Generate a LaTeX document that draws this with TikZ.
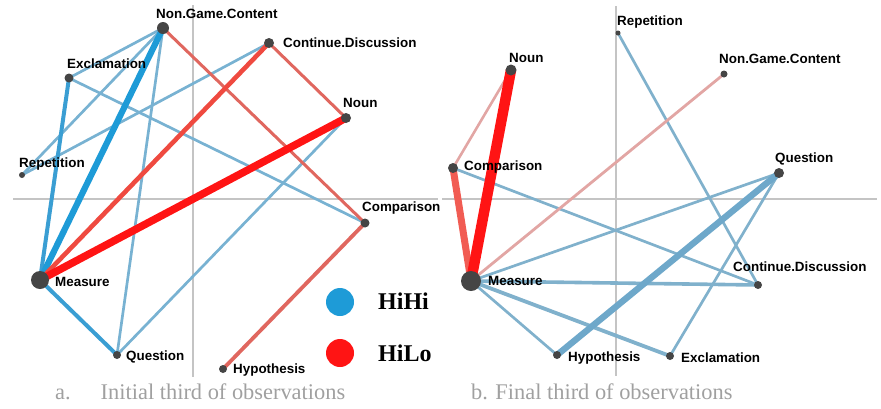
\documentclass[tikz,border=0pt]{standalone}
\usepackage{fontspec}
\setmainfont{Liberation Serif}
\newfontfamily\labfont{Liberation Sans}
\usepackage{xcolor}
\usetikzlibrary{backgrounds}
\definecolor{hihi}{HTML}{1E9BD7}
\definecolor{hilo}{HTML}{FF1414}
\definecolor{bluemid}{HTML}{3A9ED3}
\definecolor{bluethin}{HTML}{78B2D2}
\definecolor{bluesteel}{HTML}{80B1CC}
\definecolor{bluedeep}{HTML}{6EA8CA}
\definecolor{redmid}{HTML}{EF4A40}
\definecolor{redsoft}{HTML}{E0675F}
\definecolor{redpale}{HTML}{E2A6A4}
\definecolor{dotgray}{HTML}{454545}
\definecolor{axisgray}{HTML}{C4C4C4}
\definecolor{capgray}{HTML}{A0A0A0}

\begin{document}
\begin{tikzpicture}[x=1pt, y=-1pt,
    vtx/.style={circle, fill=dotgray, inner sep=0pt, minimum size=#1},
    lab/.style={font=\labfont\bfseries\fontsize{13.4}{14}\selectfont, anchor=base west, inner sep=0pt},
    leg/.style={font=\bfseries\fontsize{24}{26}\selectfont, anchor=base west, inner sep=0pt},
    captext/.style={font=\fontsize{22.4}{24}\selectfont, text=capgray, anchor=base west, inner sep=0pt},
    axisline/.style={axisgray, line width=1.2pt},
    link/.style={line width=#1}]
    \useasboundingbox (0,0) rectangle (881,408);

    % ---- panel a: vertices
    \node[vtx=12pt] (aNGC)  at (163,28)  {};
    \node[vtx=10pt] (aCD)   at (269,43)  {};
    \node[vtx=9pt]  (aExcl) at (69,78)   {};
    \node[vtx=10pt] (aNoun) at (346,118) {};
    \node[vtx=6pt]  (aRep)  at (22,175)  {};
    \node[vtx=9pt]  (aComp) at (365,223) {};
    \node[vtx=18pt] (aMeas) at (40,280)  {};
    \node[vtx=8pt]  (aQues) at (117,355) {};
    \node[vtx=8pt]  (aHyp)  at (223,369) {};
    % labels
    \node[lab] (aNGCt)  at (156,18)  {Non.Game.Content};
    \node[lab] (aCDt)   at (283,47)  {Continue.Discussion};
    \node[lab] (aExclt) at (67,68)   {Exclamation};
    \node[lab] (aNount) at (343,107) {Noun};
    \node[lab] (aRept)  at (19,167)  {Repetition};
    \node[lab] (aCompt) at (362,211) {Comparison};
    \node[lab] (aMeast) at (55,286)  {Measure};
    \node[lab] (aQuest) at (126,360) {Question};
    \node[lab] (aHypt)  at (233,373) {Hypothesis};

    % ---- panel b: vertices
    \node[vtx=5pt]  (bRep)  at (618,33)  {};
    \node[vtx=11pt] (bNoun) at (511,70)  {};
    \node[vtx=7pt]  (bNGC)  at (724,74)  {};
    \node[vtx=10pt] (bComp) at (453,168) {};
    \node[vtx=10pt] (bQues) at (779,173) {};
    \node[vtx=20pt] (bMeas) at (471,281) {};
    \node[vtx=8pt]  (bCD)   at (758,285) {};
    \node[vtx=8pt]  (bHyp)  at (557,355) {};
    \node[vtx=8pt]  (bExcl) at (670,356) {};
    % labels
    \node[lab] (bRept)  at (617,25)  {Repetition};
    \node[lab] (bNount) at (509,62)  {Noun};
    \node[lab] (bNGCt)  at (719,63)  {Non.Game.Content};
    \node[lab] (bCompt) at (464,170) {Comparison};
    \node[lab] (bQuest) at (775,162) {Question};
    \node[lab] (bMeast) at (488,285) {Measure};
    \node[lab] (bCDt)   at (733,271) {Continue.Discussion};
    \node[lab] (bHypt)  at (568,361) {Hypothesis};
    \node[lab] (bExclt) at (681,362) {Exclamation};

    % ---- legend
    \node[circle, fill=hihi, inner sep=0pt, minimum size=28pt] (keyBlue) at (340,302) {};
    \node[circle, fill=hilo, inner sep=0pt, minimum size=28pt] (keyRed)  at (340,353) {};
    \node[leg] (keyBluet) at (378,309) {HiHi};
    \node[leg] (keyRedt)  at (378,361) {HiLo};

    % ---- captions
    \node[captext] (capA) at (55,399)  {a.\hspace{30pt}Initial third of observations};
    \node[captext] (capB) at (471,399) {b. Final third of observations};

    \begin{scope}[on background layer]
        % Axes
        \coordinate (aL) at (13,199);  \coordinate (aR) at (438,199);
        \coordinate (aT) at (193,5);   \coordinate (aB) at (193,377);
        \coordinate (bL) at (442,199); \coordinate (bR) at (877,199);
        \coordinate (bT) at (616,6);   \coordinate (bB) at (616,376);
        \draw[axisline] (aL) -- (aR);
        \draw[axisline] (aT) -- (aB);
        \draw[axisline] (bL) -- (bR);
        \draw[axisline] (bT) -- (bB);

        % Panel a, HiHi links
        \draw[bluethin, link=2.7pt] (aNGC.center) -- (aExcl.center);
        \draw[bluethin, link=2.7pt] (aNGC.center) -- (aRep.center);
        \draw[bluethin, link=2.7pt] (aNGC.center) -- (aQues.center);
        \draw[bluethin, link=2.7pt] (aCD.center) -- (aRep.center);
        \draw[bluethin, link=2.7pt] (aExcl.center) -- (aComp.center);
        \draw[bluethin, link=2.7pt] (aNoun.center) -- (aQues.center);
        \draw[bluemid, link=4pt] (aMeas.center) -- (aExcl.center);
        \draw[bluemid, link=4pt] (aMeas.center) -- (aQues.center);
        \draw[hihi, link=6.2pt] (aMeas.center) -- (aNGC.center);
        % Panel a, HiLo links
        \draw[redsoft, link=3pt] (aNGC.center) -- (aComp.center);
        \draw[redsoft, link=3pt] (aCD.center) -- (aNoun.center);
        \draw[redsoft, link=3.8pt] (aComp.center) -- (aHyp.center);
        \draw[redmid, link=4.6pt] (aMeas.center) -- (aCD.center);
        \draw[hilo, link=7.6pt] (aMeas.center) -- (aNoun.center);

        % Panel b, HiHi links
        \draw[bluesteel, link=2.7pt] (bRep.center) -- (bCD.center);
        \draw[bluesteel, link=2.7pt] (bComp.center) -- (bCD.center);
        \draw[bluesteel, link=2.7pt] (bMeas.center) -- (bQues.center);
        \draw[bluesteel, link=2.7pt] (bMeas.center) -- (bHyp.center);
        \draw[bluesteel, link=2.7pt] (bExcl.center) -- (bQues.center);
        \draw[bluesteel, link=3.6pt] (bMeas.center) -- (bCD.center);
        \draw[bluesteel, link=3.8pt] (bMeas.center) -- (bExcl.center);
        \draw[bluedeep, link=6.4pt] (bHyp.center) -- (bQues.center);
        % Panel b, HiLo links
        \draw[redpale, link=2.8pt] (bMeas.center) -- (bNGC.center);
        \draw[redpale, link=2.6pt] (bComp.center) -- (bNoun.center);
        \draw[redmid!90!white, link=7pt] (bMeas.center) -- (bComp.center);
        \draw[hilo, link=10.5pt] (bMeas.center) -- (bNoun.center);
    \end{scope}
\end{tikzpicture}
\end{document}
